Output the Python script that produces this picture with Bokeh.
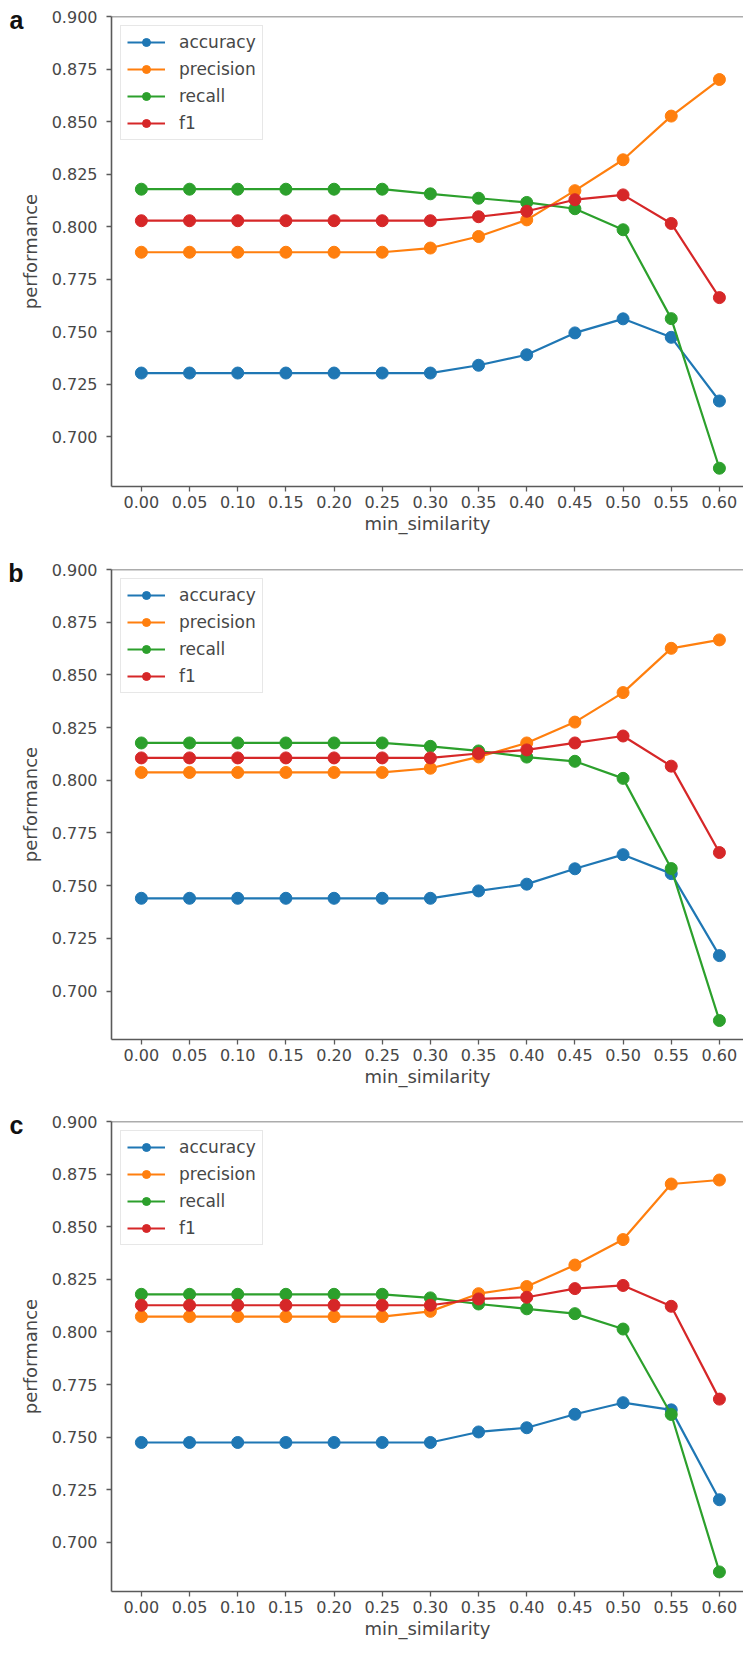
from bokeh.plotting import figure
from bokeh.layouts import column
from bokeh.models import (Span, Legend, LegendItem, FixedTicker, NumeralTickFormatter,
                          LinearAxis, CustomJSTickFormatter)
from bokeh.embed import file_html
from bokeh.resources import INLINE

# ---------------- data ----------------
min_similarity = [0.00, 0.05, 0.10, 0.15, 0.20, 0.25, 0.30, 0.35, 0.40, 0.45, 0.50, 0.55, 0.60]
series_names = ["accuracy", "precision", "recall", "f1"]
series_colors = ["#1f77b4", "#ff7f0e", "#2ca02c", "#d62728"]
panel_letters = ["a", "b", "c"]

accuracy_a = [0.7303, 0.7303, 0.7303, 0.7303, 0.7303, 0.7303, 0.7303, 0.7340, 0.7390, 0.7494, 0.7561, 0.7473, 0.7170]
precision_a = [0.7878, 0.7878, 0.7878, 0.7878, 0.7878, 0.7878, 0.7898, 0.7953, 0.8032, 0.8171, 0.8318, 0.8526, 0.8700]
recall_a = [0.8178, 0.8178, 0.8178, 0.8178, 0.8178, 0.8178, 0.8156, 0.8135, 0.8115, 0.8085, 0.7985, 0.7562, 0.6850]
f1_a = [0.8028, 0.8028, 0.8028, 0.8028, 0.8028, 0.8028, 0.8028, 0.8047, 0.8073, 0.8128, 0.8151, 0.8015, 0.7662]

accuracy_b = [0.7440, 0.7440, 0.7440, 0.7440, 0.7440, 0.7440, 0.7440, 0.7475, 0.7507, 0.7580, 0.7647, 0.7557, 0.7168]
precision_b = [0.8037, 0.8037, 0.8037, 0.8037, 0.8037, 0.8037, 0.8057, 0.8111, 0.8177, 0.8276, 0.8416, 0.8626, 0.8666]
recall_b = [0.8177, 0.8177, 0.8177, 0.8177, 0.8177, 0.8177, 0.8161, 0.8139, 0.8110, 0.8090, 0.8009, 0.7581, 0.6860]
f1_b = [0.8106, 0.8106, 0.8106, 0.8106, 0.8106, 0.8106, 0.8106, 0.8127, 0.8144, 0.8177, 0.8210, 0.8067, 0.7657]

accuracy_c = [0.7475, 0.7475, 0.7475, 0.7475, 0.7475, 0.7475, 0.7475, 0.7525, 0.7545, 0.7609, 0.7664, 0.7630, 0.7203]
precision_c = [0.8073, 0.8073, 0.8073, 0.8073, 0.8073, 0.8073, 0.8098, 0.8182, 0.8216, 0.8318, 0.8439, 0.8703, 0.8722]
recall_c = [0.8179, 0.8179, 0.8179, 0.8179, 0.8179, 0.8179, 0.8162, 0.8133, 0.8110, 0.8087, 0.8014, 0.7608, 0.6860]
f1_c = [0.8127, 0.8127, 0.8127, 0.8127, 0.8127, 0.8127, 0.8127, 0.8157, 0.8165, 0.8206, 0.8221, 0.8122, 0.7681]

panels = [
    [accuracy_a, precision_a, recall_a, f1_a],
    [accuracy_b, precision_b, recall_b, f1_b],
    [accuracy_c, precision_c, recall_c, f1_c],
]
y_bottoms = [0.6763, 0.6770, 0.6767]
y_ticks = [0.700, 0.725, 0.750, 0.775, 0.800, 0.825, 0.850, 0.875, 0.900]

TXT = "#474747"
SPINE = "#5a5a5a"
FONT = "DejaVu Sans"
FRAME_H = 470
TOP = 16

figs = []
heights = [553, 552, 550]
for i, series in enumerate(panels):
    h = heights[i]
    p = figure(width=743, height=h, output_backend="svg", toolbar_location=None,
               x_range=(-0.031, 0.625), y_range=(y_bottoms[i], 0.900),
               min_border_left=111, min_border_right=0, min_border_top=TOP,
               min_border_bottom=h - TOP - FRAME_H)
    p.outline_line_color = None
    p.grid.visible = False
    p.background_fill_color = "white"
    p.border_fill_color = "white"

    p.xaxis.ticker = FixedTicker(ticks=min_similarity)
    p.xaxis.formatter = NumeralTickFormatter(format="0.00")
    p.yaxis.ticker = FixedTicker(ticks=y_ticks)
    p.yaxis.formatter = NumeralTickFormatter(format="0.000")
    for ax in (p.xaxis[0], p.yaxis[0]):
        ax.axis_line_color = SPINE
        ax.axis_line_width = 1.6
        ax.major_tick_line_color = SPINE
        ax.major_tick_line_width = 1.3
        ax.major_tick_out = 5
        ax.major_tick_in = 0
        ax.minor_tick_line_color = None
        ax.major_label_text_font = FONT
        ax.major_label_text_font_size = "16px"
        ax.major_label_text_color = TXT
        ax.axis_label_text_font = FONT
        ax.axis_label_text_font_size = "18px"
        ax.axis_label_text_font_style = "normal"
        ax.axis_label_text_color = TXT
    p.xaxis.axis_label = "min_similarity"
    p.yaxis.axis_label = "performance"
    p.xaxis.major_label_standoff = 4
    p.xaxis.axis_label_standoff = 2
    p.yaxis.major_label_standoff = 9
    p.yaxis.axis_label_standoff = 8

    # panel letter drawn as the single tick label of an outer, invisible axis
    letter_axis = LinearAxis(ticker=FixedTicker(ticks=[0.8982]),
                             formatter=CustomJSTickFormatter(code="return '%s'" % panel_letters[i]))
    letter_axis.axis_line_color = None
    letter_axis.major_tick_line_color = None
    letter_axis.minor_tick_line_color = None
    letter_axis.major_tick_out = 0
    letter_axis.major_tick_in = 0
    letter_axis.major_label_standoff = -7
    letter_axis.major_label_text_font = "Liberation Sans"
    letter_axis.major_label_text_font_style = "bold"
    letter_axis.major_label_text_font_size = "25px"
    letter_axis.major_label_text_color = "#111111"
    p.add_layout(letter_axis, "left")

    p.add_layout(Span(location=0.900, dimension="width", line_color=SPINE, line_width=1.6))

    items = []
    for name, color, vals in zip(series_names, series_colors, series):
        r1 = p.line(min_similarity, vals, line_color=color, line_width=2.2)
        r2 = p.scatter(min_similarity, vals, size=12, marker="circle",
                       fill_color=color, line_color=color, line_width=1)
        items.append(LegendItem(label=name, renderers=[r1, r2]))

    legend = Legend(items=items, location="top_left")
    legend.margin = 9
    legend.padding = 6
    legend.spacing = 7
    legend.label_height = 20
    legend.glyph_height = 20
    legend.glyph_width = 38
    legend.label_standoff = 14
    legend.label_text_font = FONT
    legend.label_text_font_size = "17px"
    legend.label_text_color = TXT
    legend.border_line_color = "#d0d0d0"
    legend.border_line_width = 1
    legend.background_fill_color = "white"
    legend.background_fill_alpha = 0.85
    p.add_layout(legend, "center")
    figs.append(p)

layout = column(*figs, spacing=0)
open("out.html", "w").write(file_html(layout, INLINE))
